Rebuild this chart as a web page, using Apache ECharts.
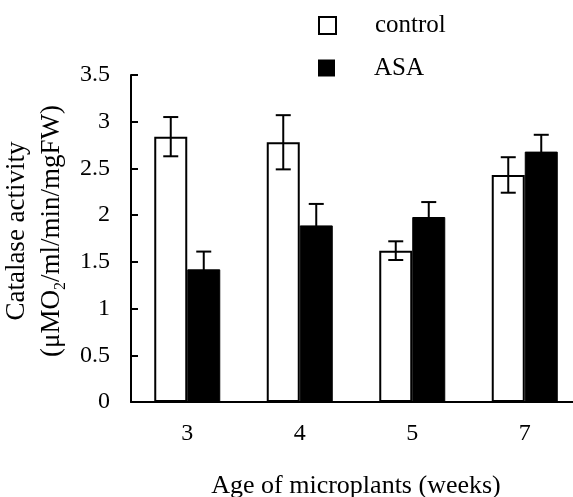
<!DOCTYPE html>
<html>
<head>
<meta charset="utf-8">
<script src="https://cdn.jsdelivr.net/npm/echarts@6/dist/echarts.min.js"></script>
<style>
html,body{margin:0;padding:0;background:#fff;}
#chart{width:573px;height:497px;}
</style>
</head>
<body>
<div id="chart"></div>
<script>
const categories = ['3', '4', '5', '7'];
const controlValues = [2.84, 2.78, 1.62, 2.43];
const controlErrors = [0.21, 0.29, 0.1, 0.19];
const asaValues = [1.42, 1.89, 1.98, 2.68];
const asaErrors = [0.19, 0.23, 0.16, 0.18];
const yTicks = { min: 0, max: 3.5, interval: 0.5 };

const FONT = "'Liberation Serif', 'Times New Roman', serif";
const BAR_W = 33;

function errorSeries(name, values, errors, offset) {
  return {
    type: 'custom',
    name: name + ' error',
    z: 10,
    data: values.map((v, i) => [i, v, errors[i]]),
    renderItem: function (params, api) {
      const idx = api.value(0);
      const mean = api.value(1);
      const err = api.value(2);
      const top = api.coord([idx, mean + err]);
      const bot = api.coord([idx, mean - err]);
      const x = top[0] + offset;
      const cap = 7.5;
      const style = { stroke: '#000', lineWidth: 2 };
      return {
        type: 'group',
        children: [
          { type: 'line', shape: { x1: x, y1: top[1], x2: x, y2: bot[1] }, style },
          { type: 'line', shape: { x1: x - cap, y1: top[1], x2: x + cap, y2: top[1] }, style },
          { type: 'line', shape: { x1: x - cap, y1: bot[1], x2: x + cap, y2: bot[1] }, style }
        ]
      };
    }
  };
}

function legendFor(name, top, itemStyle) {
  return {
    orient: 'vertical',
    left: 313,
    top: top,
    itemWidth: 17,
    itemHeight: 17,
    textStyle: { fontFamily: FONT, fontSize: 25, color: '#000', padding: [0, 0, 0, 34] },
    data: [{ name: name, icon: 'rect', itemStyle: itemStyle }]
  };
}

const chart = echarts.init(document.getElementById('chart'), null, { renderer: 'canvas' });
chart.setOption({
  animation: false,
  backgroundColor: '#fff',
  textStyle: { fontFamily: FONT, color: '#000' },
  legend: [
    legendFor('control', 8, { color: '#fff', borderColor: '#000', borderWidth: 2 }),
    legendFor('ASA', 50.5, { color: '#000', borderColor: '#000', borderWidth: 0 })
  ],
  grid: { left: 131, top: 75, width: 450, height: 327, containLabel: false, outerBoundsMode: 'none' },
  xAxis: {
    type: 'category',
    data: categories,
    name: 'Age of microplants (weeks)',
    nameLocation: 'middle',
    nameGap: 71,
    nameTextStyle: { fontFamily: FONT, fontSize: 26, color: '#000' },
    axisLine: { lineStyle: { color: '#000', width: 2 } },
    axisTick: { show: false },
    axisLabel: { fontFamily: FONT, fontSize: 24, color: '#000', margin: 20 }
  },
  yAxis: {
    type: 'value',
    min: yTicks.min,
    max: yTicks.max,
    interval: yTicks.interval,
    name: 'Catalase activity\n(μMO{s|2}/ml/min/mgFW)',
    nameLocation: 'middle',
    nameGap: 45,
    nameTextStyle: {
      fontFamily: FONT, fontSize: 27, color: '#000', lineHeight: 35,
      padding: [0, 0, 0, 15],
      rich: { s: { fontFamily: FONT, fontSize: 16, lineHeight: 16, verticalAlign: 'bottom', color: '#000' } }
    },
    splitLine: { show: false },
    axisLine: { show: true, lineStyle: { color: '#000', width: 2 } },
    axisTick: { show: true, inside: true, length: 7, lineStyle: { color: '#000', width: 2 } },
    axisLabel: { fontFamily: FONT, fontSize: 24, color: '#000', margin: 21 }
  },
  series: [
    {
      name: 'control', type: 'bar', data: controlValues, barWidth: BAR_W, barGap: '0%',
      itemStyle: { color: '#fff', borderColor: '#000', borderWidth: 2 }
    },
    {
      name: 'ASA', type: 'bar', data: asaValues, barWidth: BAR_W, barGap: '0%',
      itemStyle: { color: '#000', borderColor: '#000', borderWidth: 1 }
    },
    errorSeries('control', controlValues, controlErrors, -BAR_W / 2),
    errorSeries('ASA', asaValues, asaErrors, BAR_W / 2)
  ]
});
</script>
</body>
</html>
